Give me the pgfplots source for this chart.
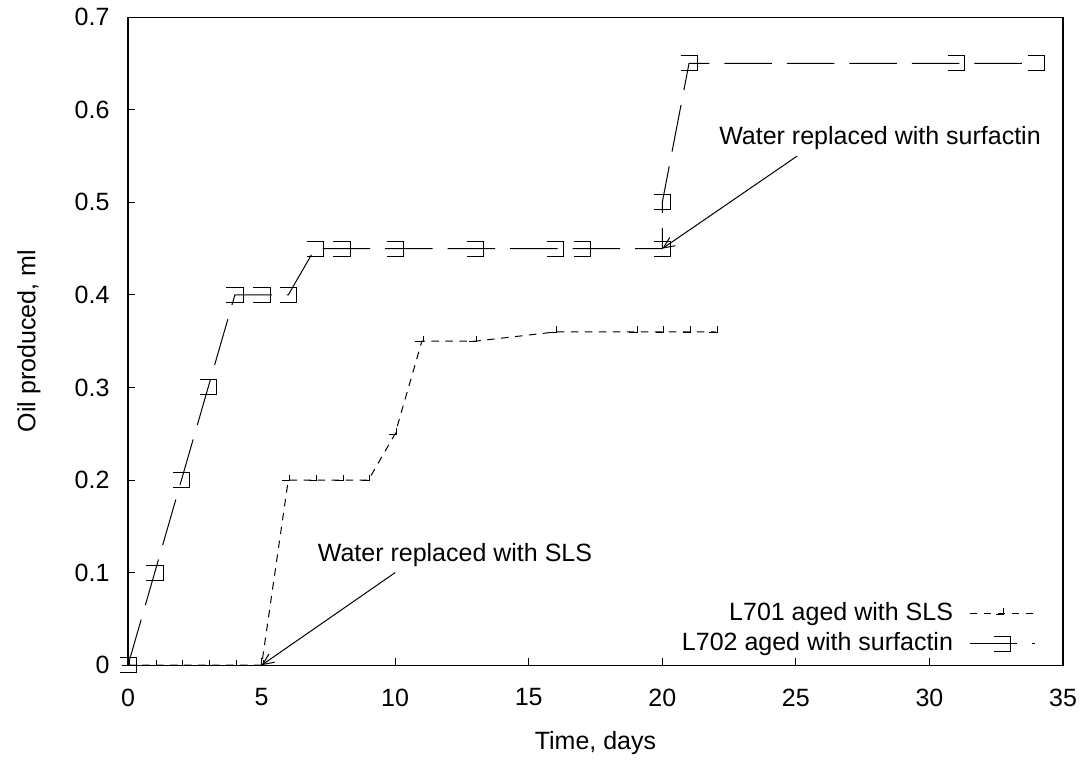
\documentclass[border=0pt,10pt]{standalone}
\usepackage{fontspec}
\setmainfont{Liberation Sans}
\usepackage{pgfplots}
\pgfplotsset{compat=1.18}
\usetikzlibrary{arrows.meta}

\pgfdeclareplotmark{kbox}{%
  \pgfpathmoveto{\pgfpoint{-3.4pt}{3pt}}%
  \pgfpathlineto{\pgfpoint{3.4pt}{3pt}}%
  \pgfpathlineto{\pgfpoint{3.4pt}{-3pt}}%
  \pgfpathlineto{\pgfpoint{-3.4pt}{-3pt}}%
  \pgfusepathqstroke}
\pgfdeclareplotmark{ktick}{%
  \pgfpathmoveto{\pgfpoint{-2.6pt}{-0.2pt}}%
  \pgfpathlineto{\pgfpoint{0.6pt}{-0.2pt}}%
  \pgfpathlineto{\pgfpoint{0.6pt}{2.2pt}}%
  \pgfusepathqstroke}

\begin{document}
\begin{tikzpicture}
\begin{axis}[
  scale only axis,
  width=374pt, height=259.2pt,
  xmin=0, xmax=35, ymin=0, ymax=0.7,
  xtick={0,5,...,35},
  ytick={0,0.1,0.2,0.3,0.4,0.5,0.6,0.7},
  yticklabels={0,0.1,0.2,0.3,0.4,0.5,0.6,0.7},
  tick pos=left,
  tick align=inside,
  major tick length=2.8pt,
  axis line style={line width=0.5pt},
  tick style={line width=0.4pt, black},
  /pgf/number format/assume math mode=true,
  yticklabel style={xshift=-3.9pt},
  xticklabel style={yshift=-5.9pt},
  xlabel={Time, days},
  ylabel={Oil produced, ml},
  xlabel style={at={(axis description cs:0.5,-0.1204)}, anchor=center},
  ylabel style={at={(axis description cs:-0.106,0.5)}, anchor=center, rotate=0},
  clip=false,
  legend plot pos=right,
  legend cell align=right,
  legend style={draw=none, fill=none, at={(1,0)}, anchor=south east,
    xshift=-8pt, yshift=0.4pt, row sep=0pt, column sep=5pt,
    nodes={inner sep=1.4pt, text height=7.2pt, text depth=2pt}},
  legend image code/.code={%
    \draw[mark repeat=2,mark phase=2,#1] plot coordinates {(0pt,0pt) (13pt,0pt) (26pt,0pt)};},
]
\addplot[black, line width=0.4pt, dash pattern=on 3pt off 2.6pt, mark=ktick, mark options={solid, line width=0.4pt}] coordinates {
(0,0) (1,0) (2,0) (3,0) (4,0) (5,0) (6,0.2) (7,0.2) (8,0.2) (9,0.2) (10,0.25)
(11,0.35) (13,0.35) (16,0.36) (19,0.36) (20,0.36) (21,0.36) (22,0.36)};
\addlegendentry{L701 aged with SLS}
\addplot[black, line width=0.4pt, dash pattern=on 19pt off 6pt, mark=kbox, mark options={solid, line width=0.4pt}] coordinates {
(0,0) (1,0.1) (2,0.2) (3,0.3) (4,0.4) (5,0.4) (6,0.4) (7,0.45) (8,0.45) (10,0.45)
(13,0.45) (16,0.45) (17,0.45) (20,0.45) (20,0.5) (21,0.65) (31,0.65) (34,0.65)};
\addlegendentry{L702 aged with surfactin}

\draw[line width=0.4pt, -{Straight Barb[length=4.5pt,width=4pt]}] (axis cs:10,0.1) -- (axis cs:5,0);
\node at (axis cs:12.24,0.119) {Water replaced with SLS};
\draw[line width=0.4pt, -{Straight Barb[length=4.5pt,width=4pt]}] (axis cs:25.05,0.55) -- (axis cs:20,0.45);
\node at (axis cs:28.15,0.569) {Water replaced with surfactin};
\end{axis}
\path ([shift={(-51.2pt,-37.6pt)}]current axis.south west) rectangle ([shift={(9.2pt,6.8pt)}]current axis.north east);
\end{tikzpicture}
\end{document}
